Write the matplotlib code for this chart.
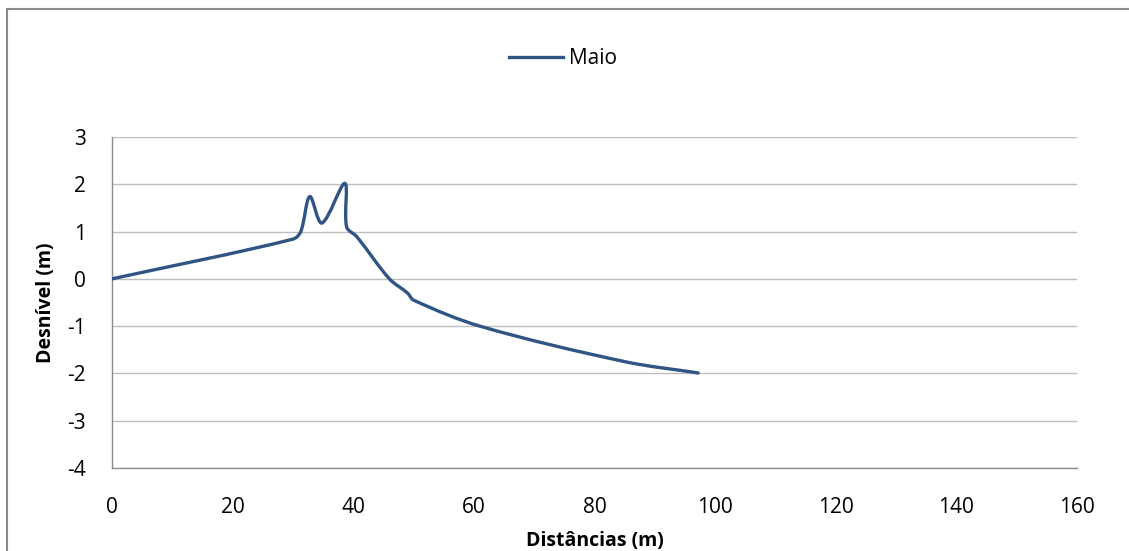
import numpy as np
import matplotlib.pyplot as plt
from matplotlib.path import Path
from matplotlib.patches import PathPatch, Rectangle
from matplotlib.lines import Line2D

# perfil de Maio
distancias = [0, 30, 31.3, 32.8, 34.8, 38.6, 38.9, 40.6, 46, 49, 50, 61, 85, 97.2]
desnivel = [0, 0.84, 1.0, 1.74, 1.18, 2.02, 1.1, 0.89, 0.0, -0.3, -0.45, -1.0, -1.75, -1.99]
serie = "Maio"

x_ticks = [0, 20, 40, 60, 80, 100, 120, 140, 160]
y_ticks = [-4, -3, -2, -1, 0, 1, 2, 3]

cor = "#2f5584"
plt.rcParams["font.family"] = ["Open Sans", "DejaVu Sans"]
plt.rcParams["axes.unicode_minus"] = False


def linha_suave(x, y, sx=6.03, sy=47.3):
    # Bezier suavizada, tangentes pelo comprimento das cordas (em escala de pixels)
    p = np.column_stack([np.asarray(x) * sx, np.asarray(y) * sy]).astype(float)
    n = len(p)
    d = np.linalg.norm(np.diff(p, axis=0), axis=1)
    m = np.zeros_like(p)
    for i in range(n):
        if i == 0:
            m[i] = (p[1] - p[0]) / d[0]
        elif i == n - 1:
            m[i] = (p[-1] - p[-2]) / d[-1]
        else:
            m[i] = (p[i + 1] - p[i - 1]) / (d[i - 1] + d[i])
    verts = [p[0]]
    codes = [Path.MOVETO]
    for i in range(n - 1):
        c1 = p[i] + m[i] * d[i] / 3.0
        c2 = p[i + 1] - m[i + 1] * d[i] / 3.0
        verts += [c1, c2, p[i + 1]]
        codes += [Path.CURVE4] * 3
    verts = np.array(verts) / [sx, sy]
    return Path(verts, codes)


fig = plt.figure(figsize=(11.29, 5.51), dpi=100)
ax = fig.add_axes([112 / 1129, 1 - 468 / 551, 965 / 1129, 331 / 551])

ax.add_patch(PathPatch(linha_suave(distancias, desnivel), facecolor="none",
                       edgecolor=cor, lw=2.4, capstyle="round", joinstyle="round", zorder=3))

ax.set_xlim(0, 160)
ax.set_ylim(-4, 3)
ax.set_xticks(x_ticks)
ax.set_yticks(y_ticks)
ax.tick_params(length=0, labelsize=15, pad=0)
ax.tick_params(axis="x", pad=21)
ax.tick_params(axis="y", pad=19)
ax.grid(axis="y", color="#bdbdbd", lw=1)
ax.set_axisbelow(True)
for s in ["top", "right"]:
    ax.spines[s].set_visible(False)
for s in ["left", "bottom"]:
    ax.spines[s].set_color("#8c8c8c")
    ax.spines[s].set_linewidth(1)

ax.set_xlabel("Distâncias (m)", fontsize=14, fontweight="bold", labelpad=9)
ax.set_ylabel("Desnível (m)", fontsize=14, fontweight="bold", labelpad=8)

handle = Line2D([], [], color=cor, lw=2.4)
fig.legend([handle], [serie], loc="center", bbox_to_anchor=(563 / 1129, 1 - 59 / 551),
           frameon=False, fontsize=15, handlelength=2.6, handletextpad=0.25)

# moldura do grafico
fig.patches.append(Rectangle((7 / 1129, -0.1), 1.2, 1 - 9 / 551 + 0.1,
                             transform=fig.transFigure, fill=False,
                             edgecolor="#8a8a8a", lw=1.5, figure=fig))

fig.savefig("out.png", dpi=100)
